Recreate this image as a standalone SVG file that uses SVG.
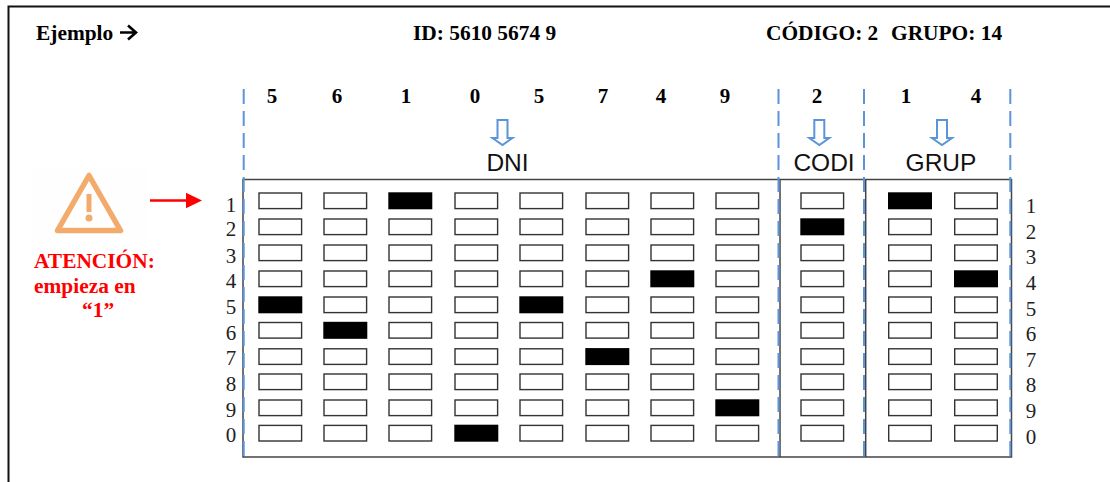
<svg xmlns="http://www.w3.org/2000/svg" xmlns:xlink="http://www.w3.org/1999/xlink" width="1110" height="482" viewBox="0 0 1110 482">
<style>
text{font-family:"Liberation Serif",serif;fill:#000}
.b{font-weight:bold;font-size:21.400px}
.d{font-weight:bold;font-size:21px;text-anchor:middle}
.n{font-size:21px;text-anchor:middle;fill:#222}
.s{font-family:"Liberation Sans",sans-serif;font-size:24.500px;text-anchor:middle;fill:#111}
.r{font-weight:bold;font-size:21.400px;fill:#f00}
.c{fill:#fff;stroke:#333;stroke-width:1.400}
.f{fill:#000;stroke:#000;stroke-width:1.400}
.dash{fill:none;stroke:#5b94d8;stroke-width:2;stroke-dasharray:15 7}
.arr{fill:#fff;stroke:#5b94d8;stroke-width:2}
.fr{fill:none;stroke:#444;stroke-width:1.500}
</style>
<defs>
<rect id="k" width="42.600" height="15.600" class="c"/>
<rect id="x" width="42.600" height="15.600" class="f"/>
<path id="da" d="M-5 0H5V18H10L0 25L-10 18H-5Z" class="arr"/>
</defs>
<rect width="1110" height="482" fill="#fff"/>
<path d="M8.500 482V6.500H1110" fill="none" stroke="#111" stroke-width="2"/>
<g id="header">
<text x="36" y="40" class="b">Ejemplo</text>
<path d="M120 32.500H135.500M128 25.500L136 32.500L128 39.500" fill="none" stroke="#000" stroke-width="2.600"/>
<text x="413" y="40" class="b">ID: 5610 5674 9</text>
<text x="766" y="40" class="b">CÓDIGO: 2</text>
<text x="891" y="40" class="b">GRUPO: 14</text>
</g>
<g id="warning">
<rect x="33" y="168" width="115" height="72" fill="#fefefe"/>
<path d="M89 175.500L120.500 230.500H57.500Z" fill="#fff" stroke="#f2ab6b" stroke-width="5.500" stroke-linejoin="round"/>
<path d="M89 194V212" stroke="#f2ab6b" stroke-width="5" fill="none"/>
<circle cx="89" cy="218" r="3.500" fill="#f2ab6b"/>
<text x="34" y="268" class="r">ATENCIÓN:</text>
<text x="34" y="293" class="r">empieza en</text>
<text x="82" y="317" class="r">“1”</text>
</g>
<g id="digits">
<text x="272" y="103" class="d">5</text><text x="337" y="103" class="d">6</text><text x="406" y="103" class="d">1</text><text x="475" y="103" class="d">0</text><text x="539" y="103" class="d">5</text><text x="603" y="103" class="d">7</text><text x="661" y="103" class="d">4</text><text x="725" y="103" class="d">9</text><text x="817" y="103" class="d">2</text><text x="906" y="103" class="d">1</text><text x="976" y="103" class="d">4</text>
</g>
<g id="headers">
<use xlink:href="#da" x="502.500" y="120"/><use xlink:href="#da" x="819.300" y="120"/><use xlink:href="#da" x="942" y="120"/>
<text x="507.500" y="171" class="s">DNI</text>
<text x="824" y="171" class="s">CODI</text>
<text x="941" y="171" class="s">GRUP</text>
</g>
<g id="grid">
<path d="M243 179.500H1011.500V457H243ZM780 179.500V457M865.700 179.500V457" class="fr"/>
</g>
<g id="connectors">
<path d="M150 200.500H187" stroke="#f00" stroke-width="2.500"/>
<path d="M186 192.700L202 200.500L186 208.300Z" fill="#f00"/>
<path d="M243.700 89V457M778.500 89V457M864 89V457M1010.300 89V457" class="dash"/>
</g>
<g id="labels-left">
<text x="231" y="212" class="n">1</text><text x="231" y="236" class="n">2</text><text x="231" y="262.500" class="n">3</text><text x="231" y="288" class="n">4</text><text x="231" y="314" class="n">5</text><text x="231" y="339.500" class="n">6</text><text x="231" y="365" class="n">7</text><text x="231" y="390.500" class="n">8</text><text x="231" y="416.500" class="n">9</text><text x="231" y="441.500" class="n">0</text>
</g>
<g id="labels-right">
<text x="1031" y="212.500" class="n">1</text><text x="1031" y="238.500" class="n">2</text><text x="1031" y="264" class="n">3</text><text x="1031" y="289.500" class="n">4</text><text x="1031" y="315.500" class="n">5</text><text x="1031" y="341" class="n">6</text><text x="1031" y="366.500" class="n">7</text><text x="1031" y="392" class="n">8</text><text x="1031" y="418" class="n">9</text><text x="1031" y="443.500" class="n">0</text>
</g>
<g id="col-1"><use xlink:href="#k" x="259" y="193"/><use xlink:href="#k" x="259" y="219"/><use xlink:href="#k" x="259" y="245"/><use xlink:href="#k" x="259" y="271"/><use xlink:href="#x" x="259" y="297"/><use xlink:href="#k" x="259" y="322.500"/><use xlink:href="#k" x="259" y="348.800"/><use xlink:href="#k" x="259" y="374"/><use xlink:href="#k" x="259" y="400"/><use xlink:href="#k" x="259" y="425.400"/></g>
<g id="col-2"><use xlink:href="#k" x="324" y="193"/><use xlink:href="#k" x="324" y="219"/><use xlink:href="#k" x="324" y="245"/><use xlink:href="#k" x="324" y="271"/><use xlink:href="#k" x="324" y="297"/><use xlink:href="#x" x="324" y="322.500"/><use xlink:href="#k" x="324" y="348.800"/><use xlink:href="#k" x="324" y="374"/><use xlink:href="#k" x="324" y="400"/><use xlink:href="#k" x="324" y="425.400"/></g>
<g id="col-3"><use xlink:href="#x" x="389" y="193"/><use xlink:href="#k" x="389" y="219"/><use xlink:href="#k" x="389" y="245"/><use xlink:href="#k" x="389" y="271"/><use xlink:href="#k" x="389" y="297"/><use xlink:href="#k" x="389" y="322.500"/><use xlink:href="#k" x="389" y="348.800"/><use xlink:href="#k" x="389" y="374"/><use xlink:href="#k" x="389" y="400"/><use xlink:href="#k" x="389" y="425.400"/></g>
<g id="col-4"><use xlink:href="#k" x="455" y="193"/><use xlink:href="#k" x="455" y="219"/><use xlink:href="#k" x="455" y="245"/><use xlink:href="#k" x="455" y="271"/><use xlink:href="#k" x="455" y="297"/><use xlink:href="#k" x="455" y="322.500"/><use xlink:href="#k" x="455" y="348.800"/><use xlink:href="#k" x="455" y="374"/><use xlink:href="#k" x="455" y="400"/><use xlink:href="#x" x="455" y="425.400"/></g>
<g id="col-5"><use xlink:href="#k" x="520" y="193"/><use xlink:href="#k" x="520" y="219"/><use xlink:href="#k" x="520" y="245"/><use xlink:href="#k" x="520" y="271"/><use xlink:href="#x" x="520" y="297"/><use xlink:href="#k" x="520" y="322.500"/><use xlink:href="#k" x="520" y="348.800"/><use xlink:href="#k" x="520" y="374"/><use xlink:href="#k" x="520" y="400"/><use xlink:href="#k" x="520" y="425.400"/></g>
<g id="col-6"><use xlink:href="#k" x="586" y="193"/><use xlink:href="#k" x="586" y="219"/><use xlink:href="#k" x="586" y="245"/><use xlink:href="#k" x="586" y="271"/><use xlink:href="#k" x="586" y="297"/><use xlink:href="#k" x="586" y="322.500"/><use xlink:href="#x" x="586" y="348.800"/><use xlink:href="#k" x="586" y="374"/><use xlink:href="#k" x="586" y="400"/><use xlink:href="#k" x="586" y="425.400"/></g>
<g id="col-7"><use xlink:href="#k" x="651" y="193"/><use xlink:href="#k" x="651" y="219"/><use xlink:href="#k" x="651" y="245"/><use xlink:href="#x" x="651" y="271"/><use xlink:href="#k" x="651" y="297"/><use xlink:href="#k" x="651" y="322.500"/><use xlink:href="#k" x="651" y="348.800"/><use xlink:href="#k" x="651" y="374"/><use xlink:href="#k" x="651" y="400"/><use xlink:href="#k" x="651" y="425.400"/></g>
<g id="col-8"><use xlink:href="#k" x="716" y="193"/><use xlink:href="#k" x="716" y="219"/><use xlink:href="#k" x="716" y="245"/><use xlink:href="#k" x="716" y="271"/><use xlink:href="#k" x="716" y="297"/><use xlink:href="#k" x="716" y="322.500"/><use xlink:href="#k" x="716" y="348.800"/><use xlink:href="#k" x="716" y="374"/><use xlink:href="#x" x="716" y="400"/><use xlink:href="#k" x="716" y="425.400"/></g>
<g id="col-codi"><use xlink:href="#k" x="801" y="193"/><use xlink:href="#x" x="801" y="219"/><use xlink:href="#k" x="801" y="245"/><use xlink:href="#k" x="801" y="271"/><use xlink:href="#k" x="801" y="297"/><use xlink:href="#k" x="801" y="322.500"/><use xlink:href="#k" x="801" y="348.800"/><use xlink:href="#k" x="801" y="374"/><use xlink:href="#k" x="801" y="400"/><use xlink:href="#k" x="801" y="425.400"/></g>
<g id="col-grup-1"><use xlink:href="#x" x="888.700" y="193"/><use xlink:href="#k" x="888.700" y="219"/><use xlink:href="#k" x="888.700" y="245"/><use xlink:href="#k" x="888.700" y="271"/><use xlink:href="#k" x="888.700" y="297"/><use xlink:href="#k" x="888.700" y="322.500"/><use xlink:href="#k" x="888.700" y="348.800"/><use xlink:href="#k" x="888.700" y="374"/><use xlink:href="#k" x="888.700" y="400"/><use xlink:href="#k" x="888.700" y="425.400"/></g>
<g id="col-grup-2"><use xlink:href="#k" x="954.700" y="193"/><use xlink:href="#k" x="954.700" y="219"/><use xlink:href="#k" x="954.700" y="245"/><use xlink:href="#x" x="954.700" y="271"/><use xlink:href="#k" x="954.700" y="297"/><use xlink:href="#k" x="954.700" y="322.500"/><use xlink:href="#k" x="954.700" y="348.800"/><use xlink:href="#k" x="954.700" y="374"/><use xlink:href="#k" x="954.700" y="400"/><use xlink:href="#k" x="954.700" y="425.400"/></g>
</svg>
